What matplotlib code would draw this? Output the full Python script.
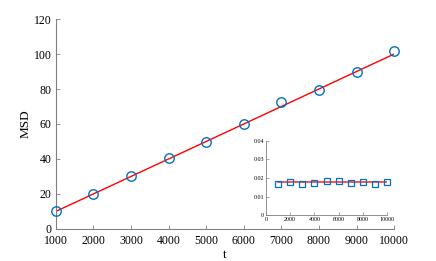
import numpy as np
import matplotlib.pyplot as plt

plt.rcParams['font.family'] = ['Liberation Serif', 'DejaVu Serif']

# main panel data
t = [1000, 2000, 3000, 4000, 5000, 6000, 7000, 8000, 9000, 10000]
msd = [10.3, 20.2, 30.2, 40.5, 49.8, 59.8, 72.5, 79.6, 90.0, 101.5]
fit_t = [1000, 10000]
fit_msd = [10.0, 100.0]

# inset data
inset_t = [1000, 2000, 3000, 4000, 5000, 6000, 7000, 8000, 9000, 10000]
inset_val = [0.0170, 0.0180, 0.0170, 0.0175, 0.0183, 0.0185, 0.0172, 0.0179, 0.0170, 0.0176]
inset_fit_t = [1000, 10000]
inset_fit_val = [0.0177, 0.0177]

blue = '#0072BD'
gray = '#808080'

fig = plt.figure(figsize=(4.36, 2.61), dpi=100)
ax = fig.add_axes([0.128, 0.123, 0.776, 0.804])
ax.plot(fit_t, fit_msd, color='red', lw=1.0, zorder=2)
ax.plot(t, msd, 'o', mfc='none', mec=blue, ms=6.8, mew=1.0, zorder=3, clip_on=False)
ax.set_xlim(1000, 10000)
ax.set_ylim(0, 120)
ax.set_xticks(t)
ax.set_yticks([0, 20, 40, 60, 80, 100, 120])
ax.set_xlabel('t', fontsize=9.5, labelpad=1)
ax.set_ylabel('MSD', fontsize=9.5, labelpad=1.5)
for s in ['top', 'right']:
    ax.spines[s].set_visible(False)
for s in ['left', 'bottom']:
    ax.spines[s].set_color(gray)
    ax.spines[s].set_linewidth(0.8)
ax.tick_params(direction='in', length=3, width=0.6, color=gray, labelsize=8.5)
ax.tick_params(axis='x', pad=4.5)
ax.tick_params(axis='y', pad=3)

ins = fig.add_axes([0.61, 0.176, 0.278, 0.284])
ins.plot(inset_fit_t, inset_fit_val, color='red', lw=1.2, alpha=0.8, zorder=2)
ins.plot(inset_t, inset_val, 's', mfc='none', mec=blue, ms=3.8, mew=0.9, zorder=3, clip_on=False)
ins.set_xlim(0, 10000)
ins.set_ylim(0, 0.04)
ins.set_xticks([0, 2000, 4000, 6000, 8000, 10000])
ins.set_yticks([0, 0.01, 0.02, 0.03, 0.04])
ins.set_yticklabels(['0', '0.01', '0.02', '0.03', '0.04'])
for s in ['top', 'right']:
    ins.spines[s].set_visible(False)
for s in ['left', 'bottom']:
    ins.spines[s].set_color(gray)
    ins.spines[s].set_linewidth(0.6)
ins.tick_params(direction='in', length=2, width=0.5, color=gray, labelsize=4.3, pad=1.5)

fig.savefig('out.png', dpi=100)
